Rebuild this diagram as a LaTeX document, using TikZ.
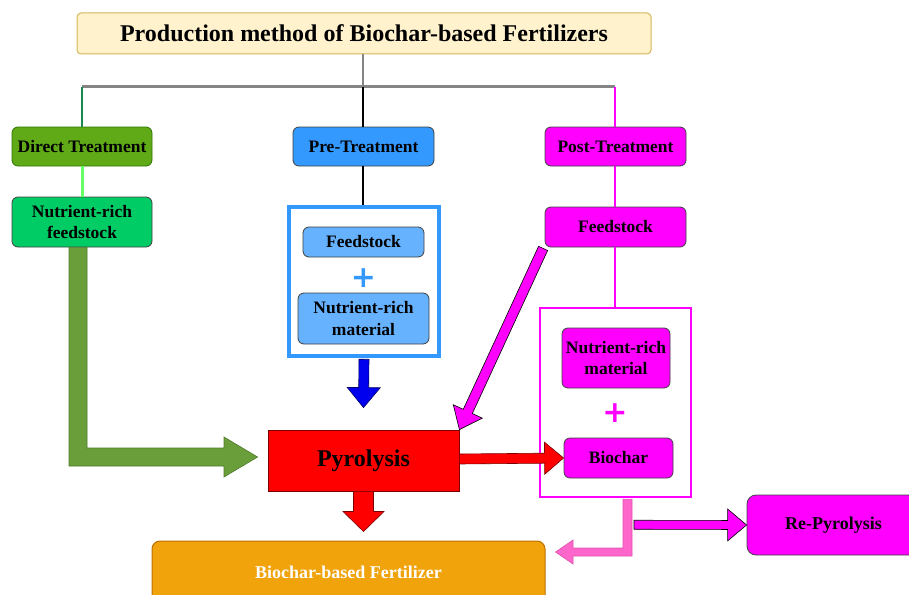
\documentclass[tikz,border=0pt]{standalone}
\usepackage{fontspec}
\setmainfont{Liberation Serif}
\newfontfamily\plusfont{DejaVu Sans}
\usetikzlibrary{calc}
\definecolor{titlefill}{HTML}{FFF2CC}
\definecolor{titledraw}{HTML}{D6B656}
\definecolor{dtgreen}{HTML}{60A917}
\definecolor{dtdraw}{HTML}{2D7600}
\definecolor{prefill}{HTML}{3399FF}
\definecolor{mag}{HTML}{FF00FF}
\definecolor{nrfgreen}{HTML}{00CC66}
\definecolor{lightblue}{HTML}{66B2FF}
\definecolor{fertfill}{HTML}{F0A30A}
\definecolor{fertdraw}{HTML}{BD7000}
\definecolor{arrowgreen}{HTML}{6A9E3A}
\definecolor{arrowgreendraw}{HTML}{4E7A28}
\definecolor{pinkarrow}{HTML}{FF66CC}
\definecolor{pinkdraw}{HTML}{E052B0}
\definecolor{linegreen}{HTML}{1B8A4F}
\definecolor{lightgreen}{HTML}{66FF66}
\definecolor{darkblue}{HTML}{0000EE}
\definecolor{darkred}{HTML}{7A0000}
\definecolor{linegray}{HTML}{858585}

% block arrow: #1 style, #2 start, #3 tip, #4 half shaft, #5 half head, #6 head length
\newcommand\blockarrow[6]{%
  \path let \p1=#2, \p2=#3 in
    \pgfextra{%
      \pgfmathparse{atan2(\y2-\y1,\x2-\x1)}\xdef\baA{\pgfmathresult}%
      \pgfmathparse{veclen(\x2-\x1,\y2-\y1)}\xdef\baL{\pgfmathresult}%
      \xdef\baX{\x1}\xdef\baY{\y1}};
  \begin{scope}[shift={(\baX,\baY)},rotate=\baA]
    \draw[#1] (0pt,{-#4*1pt}) -- ({(\baL-#6)*1pt},{-#4*1pt}) -- ({(\baL-#6)*1pt},{-#5*1pt})
      -- ({\baL*1pt},0pt) -- ({(\baL-#6)*1pt},{#5*1pt}) -- ({(\baL-#6)*1pt},{#4*1pt})
      -- (0pt,{#4*1pt}) -- cycle;
  \end{scope}}

\tikzset{
  lbl/.style={font=\fontsize{17.5}{21.5}\selectfont\bfseries, align=center, text=black, inner sep=0pt},
  rbox/.style={lbl, rounded corners=6pt, line width=0.8pt, draw=black!75},
  plussign/.style={font=\plusfont\bfseries\fontsize{30}{30}\selectfont, inner sep=0pt},
  conn/.style={line width=2pt},
}

\begin{document}
\begin{tikzpicture}[x=1pt,y=-1pt]
\path[use as bounding box] (0,0) rectangle (909,594);
\clip (0,0) rectangle (909,594);

% title
\node[draw=titledraw, fill=titlefill, line width=1pt, rounded corners=4pt,
  minimum width=574, minimum height=41, inner sep=0pt,
  font=\fontsize{24}{28}\selectfont\bfseries] (title) at (364,33.5)
  {Production method of Biochar-based Fertilizers};

% treatment boxes
\node[rbox, fill=dtgreen, draw=dtdraw, minimum width=140, minimum height=39] (dt) at (82,146.5) {Direct Treatment};
\node[rbox, fill=prefill, minimum width=141, minimum height=39] (pre) at (363.5,146.5) {Pre-Treatment};
\node[rbox, fill=mag, minimum width=141, minimum height=39] (post) at (615.5,146.5) {Post-Treatment};

% direct branch
\node[rbox, fill=nrfgreen, minimum width=140, minimum height=50] (nrf) at (82,222) {Nutrient-rich\\feedstock};

% pre branch
\node[draw=prefill, line width=3.5pt, minimum width=150, minimum height=149, inner sep=0pt] (frameB) at (364,281.5) {};
\node[rbox, fill=lightblue, minimum width=121, minimum height=30] (feedB) at (363.5,242) {Feedstock};
\node[plussign, text=prefill] (plusB) at (363.5,278) {+};
\node[rbox, fill=lightblue, minimum width=131, minimum height=51] (nrmB) at (363.5,318.5) {Nutrient-rich\\material};

% post branch
\node[rbox, fill=mag, minimum width=141, minimum height=40] (feedM) at (615.5,227) {Feedstock};
\node[draw=mag, line width=2.5pt, minimum width=151, minimum height=189, inner sep=0pt] (frameM) at (615.5,402.5) {};
\node[rbox, fill=mag, minimum width=108, minimum height=60] (nrmM) at (616,358) {Nutrient-rich\\material};
\node[plussign, text=mag] (plusM) at (615,413) {+};
\node[rbox, fill=mag, minimum width=109, minimum height=40] (biochar) at (618.5,458) {Biochar};

% pyrolysis and outputs
\node[lbl, fill=red, draw=darkred, line width=0.8pt, minimum width=191, minimum height=61,
  font=\fontsize{24}{28}\selectfont\bfseries] (pyro) at (363.5,460.5) {Pyrolysis};
\node[lbl, fill=fertfill, draw=fertdraw, line width=1pt, rounded corners=8pt, text=white,
  minimum width=393, minimum height=62, font=\fontsize{18}{22}\selectfont\bfseries] (fert) at (348.5,572) {Biochar-based Fertilizer};
\node[rbox, fill=mag, rounded corners=9pt, minimum width=173, minimum height=60,
  font=\fontsize{18}{22}\selectfont\bfseries] (repy) at (833.5,525) {Re-Pyrolysis};

% tree connectors
\coordinate (hub) at (363,86.5);
\coordinate (barL) at (82,86.5);
\coordinate (barR) at (615,86.5);
\draw[linegray, line width=2.5pt] (title.south -| hub) -- (hub);
\draw[linegray, line width=3.5pt] (barL) -- (barR);
\draw[linegreen, conn] (barL) -- (dt.north);
\draw[black, line width=1.3pt] (hub) -- (hub |- pre.north);
\draw[mag, conn] (barR) -- (barR |- post.north);
\draw[lightgreen, line width=3pt] (dt.south) -- (nrf.north);
\draw[black, line width=1.3pt] (pre.south -| hub) -- (hub |- frameB.north);
\draw[mag, conn] (post.south -| barR) -- (barR |- feedM.north);
\draw[mag, conn] (feedM.south -| barR) -- (barR |- frameM.north);

% green L-shaped block arrow
\coordinate (gA) at ($(nrf.south)+(-13,0)$);
\draw[fill=arrowgreen, draw=arrowgreendraw, line width=0.6pt]
  (gA) -- ($(nrf.south)+(5,0)$) |- (224,448) -- (224,437)
  -- ($(pyro.west)+(-10,-3.5)$) -- (224,477) -- (224,466) -| (gA) -- cycle;

% pink L-shaped block arrow
\coordinate (pA) at ($(frameM.south)+(7.5,1)$);
\draw[fill=pinkarrow, draw=pinkdraw, line width=0.6pt]
  (pA) -- ($(frameM.south)+(16.5,1)$) |- (573,556) -- (573,564)
  -- ($(fert.east)+(10,-20)$) -- (573,540) -- (573,548) -| (pA) -- cycle;

% straight block arrows
\blockarrow{fill=darkblue, draw=blue!40!black, line width=0.6pt}{($(frameB.south)+(0,1.5)$)}{($(pyro.north)+(0,-22)$)}{5}{16.5}{20}
\blockarrow{fill=red, draw=darkred, line width=0.6pt}{($(pyro.east)+(0,-1.5)$)}{(biochar.west)}{5}{16}{19}
\blockarrow{fill=red, draw=darkred, line width=0.6pt}{(pyro.south)}{($(fert.north -| pyro.south)+(0,-9)$)}{10}{20.5}{20}
\blockarrow{fill=mag, draw=black, line width=0.6pt}{($(feedM.south west)+(-1.5,1)$)}{(pyro.north east)}{5}{16}{20}
\blockarrow{fill=mag, draw=black, line width=0.6pt}{($(frameM.south)+(18.5,26.5)$)}{(repy.west)}{4.5}{16}{19}
\end{tikzpicture}
\end{document}
